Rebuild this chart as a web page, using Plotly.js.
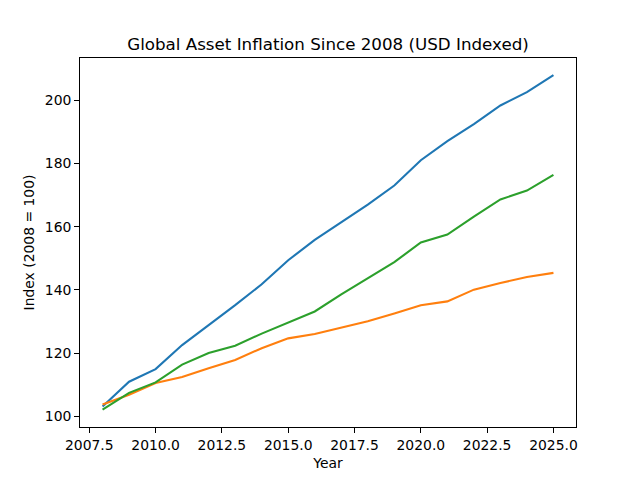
<!DOCTYPE html>
<html>
<head>
<meta charset="utf-8">
<script src="https://cdn.plot.ly/plotly-3.0.1.min.js"></script>
<style>html,body{margin:0;padding:0;background:#fff;}#chart{width:640px;height:480px;}</style>
</head>
<body>
<div id="chart"></div>
<script>
var years = [2008,2009,2010,2011,2012,2013,2014,2015,2016,2017,2018,2019,2020,2021,2022,2023,2024,2025];
var seriesA = [103.2,111.0,115.0,122.6,128.9,135.2,141.8,149.4,155.8,161.4,167.0,173.0,181.0,187.0,192.4,198.3,202.5,207.9];
var seriesB = [103.8,106.9,110.6,112.5,115.3,117.9,121.6,124.7,126.1,128.1,130.1,132.6,135.2,136.4,140.1,142.2,144.1,145.4];
var seriesC = [102.2,107.5,110.8,116.4,120.1,122.4,126.2,129.7,133.2,138.6,143.6,148.8,155.0,157.5,163.2,168.6,171.4,176.4];
var seriesNames = ["Equities","Bonds","Real Estate"];
var colors = ["#1f77b4","#ff7f0e","#2ca02c"];
var yTicks = [100,120,140,160,180,200];

var data = [seriesA, seriesB, seriesC].map(function(v,i){
  return {x: years, y: v, type: 'scatter', mode: 'lines', name: seriesNames[i],
          line: {color: colors[i], width: 2.1}};
});

var font = {family: 'DejaVu Sans, sans-serif', size: 13.9, color: '#000'};
var layout = {
  width: 640, height: 480,
  margin: {l: 80, r: 64, t: 57.6, b: 52.8, pad: 0},
  paper_bgcolor: '#fff', plot_bgcolor: '#fff',
  showlegend: false,
  font: font,
  title: {text: 'Global Asset Inflation Since 2008 (USD Indexed)', font: {family: 'DejaVu Sans, sans-serif', size: 16.7, color: '#000'},
          x: 0.5, xref: 'paper', xanchor: 'center', y: 1, yref: 'paper', yanchor: 'bottom', pad: {b: 8}},
  xaxis: {range: [2007.15, 2025.85], tick0: 2007.5, dtick: 2.5, tickformat: '.1f',
          showgrid: false, zeroline: false, showline: true, mirror: true, linecolor: '#000', linewidth: 1,
          ticks: 'outside', ticklen: 4.9, tickwidth: 1, tickcolor: '#000', tickfont: font,
          title: {text: 'Year', font: font, standoff: 6}},
  yaxis: {range: [96.7, 213.3], tickvals: yTicks, ticktext: yTicks.map(String),
          showgrid: false, zeroline: false, showline: true, mirror: true, linecolor: '#000', linewidth: 1,
          ticks: 'outside', ticklen: 4.9, tickwidth: 1, tickcolor: '#000', tickfont: font,
          title: {text: 'Index (2008 = 100)', font: font, standoff: 6}}
};
Plotly.newPlot('chart', data, layout, {staticPlot: true, displayModeBar: false});
</script>
</body>
</html>
